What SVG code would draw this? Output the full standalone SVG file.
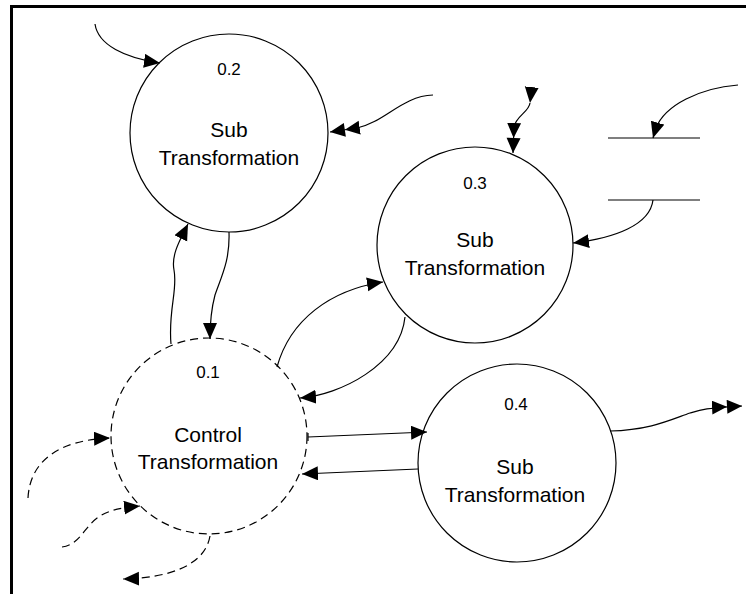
<svg xmlns="http://www.w3.org/2000/svg" width="746" height="594" viewBox="0 0 746 594">
<defs>
<style>
.node{fill:#fff;stroke:#000;stroke-width:1.2}
.dash{stroke-dasharray:8 5}
.num{font-family:"Liberation Sans",Arial,sans-serif;font-size:17px;text-anchor:middle;fill:#000}
.lbl{font-family:"Liberation Sans",Arial,sans-serif;font-size:21px;text-anchor:middle;fill:#000}
.c{fill:none;stroke:#000;stroke-width:1.2}
.ah{fill:#000;stroke:none}
</style>
<marker id="arrow" markerUnits="userSpaceOnUse" markerWidth="18" markerHeight="16" refX="16" refY="7" orient="auto">
<path class="ah" d="M0,0 L16,7 L0,14 z"/>
</marker>
<marker id="arrow2" markerUnits="userSpaceOnUse" markerWidth="32" markerHeight="16" refX="30" refY="7" orient="auto">
<path class="ah" d="M0,0 L15,7 L0,14 z M15,0 L30,7 L15,14 z"/>
</marker>
</defs>
<rect width="746" height="594" fill="#fff"/>
<path d="M11.5,600 V6.5 H750" fill="none" stroke="#000" stroke-width="3"/>

<g id="node-0.2">
<circle class="node" cx="229" cy="133" r="99"/>
<text class="num" x="229" y="75">0.2</text>
<text class="lbl" x="229" y="137">Sub</text>
<text class="lbl" x="229" y="165">Transformation</text>
</g>
<g id="node-0.3">
<circle class="node" cx="475" cy="245" r="98"/>
<text class="num" x="475" y="189">0.3</text>
<text class="lbl" x="475" y="247">Sub</text>
<text class="lbl" x="475" y="275">Transformation</text>
</g>
<g id="node-0.1">
<circle class="node dash" cx="209" cy="436" r="98"/>
<text class="num" x="208" y="378">0.1</text>
<text class="lbl" x="208" y="442">Control</text>
<text class="lbl" x="208" y="469">Transformation</text>
</g>
<g id="node-0.4">
<circle class="node" cx="517" cy="463" r="99"/>
<text class="num" x="516" y="410">0.4</text>
<text class="lbl" x="515" y="474">Sub</text>
<text class="lbl" x="515" y="502">Transformation</text>
</g>
<g id="store">
<path class="c" d="M608,138 H700 M608,200 H700"/>
</g>

<g id="connectors">
<path class="c" d="M95,24 C98,45 125,58 160,63" marker-end="url(#arrow)"/>
<path class="c" d="M433,95 C402,96 385,122 357,128 L330,132" marker-end="url(#arrow2)"/>
<path class="c" d="M229,232 C230,260 222,275 215,295 C211,310 210,320 210,339" marker-end="url(#arrow)"/>
<path class="c" d="M171,344 C168,310 178,290 174,270 C171,255 180,240 188,224" marker-end="url(#arrow)"/>
<path class="c" d="M277,367 C290,320 330,290 383,282" marker-end="url(#arrow)"/>
<path class="c" d="M405,317 C400,365 340,395 300,398" marker-end="url(#arrow)"/>
<path class="c" d="M308,433 V441 M308,437 L427,432" marker-end="url(#arrow)"/>
<path class="c" d="M418,469 L302,474" marker-end="url(#arrow)"/>
<path class="c" d="M610,431 C650,430 670,420 690,413 C700,410 705,408 742,406" marker-end="url(#arrow2)"/>
<path class="c" d="M530,103 C529,112 516,116 514,127 L513,153" marker-start="url(#arrow)" marker-end="url(#arrow2)"/>
<path class="c" d="M738,85 C700,88 665,105 656,128 L653,138" marker-end="url(#arrow)"/>
<path class="c" d="M653,200 C650,225 615,238 573,243" marker-end="url(#arrow)"/>
<path class="c dash" d="M28,498 C30,460 60,440 110,438" marker-end="url(#arrow)"/>
<path class="c dash" d="M62,547 C80,545 85,525 100,516 C110,510 120,508 140,506" marker-end="url(#arrow)"/>
<path class="c dash" d="M210,536 C205,565 170,578 123,579" marker-end="url(#arrow)"/>
</g>
</svg>
